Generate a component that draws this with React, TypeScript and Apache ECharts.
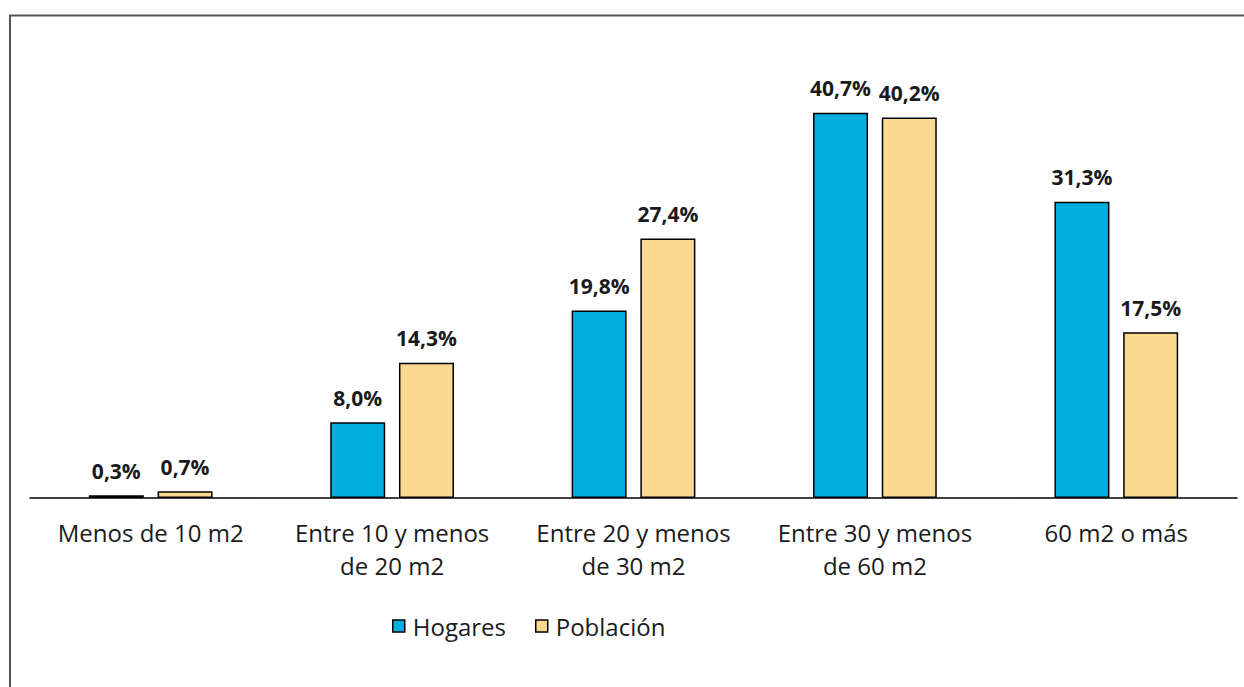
import React, { useEffect, useRef } from "react";
import * as echarts from "echarts";

const categories = [
  "Menos de 10 m2",
  "Entre 10 y menos\nde 20 m2",
  "Entre 20 y menos\nde 30 m2",
  "Entre 30 y menos\nde 60 m2",
  "60 m2 o más",
];
const hogares = [0.3, 8.0, 19.8, 40.7, 31.3];
const poblacion = [0.7, 14.3, 27.4, 40.2, 17.5];

const FONT = "'Open Sans', 'Noto Sans', sans-serif";

export default function App() {
  const ref = useRef<HTMLDivElement>(null);
  useEffect(() => {
    const chart = echarts.init(ref.current!, null, { renderer: "svg" });
    const fmt = (p: any) => p.value.toFixed(1).replace(".", ",") + "%";
    const label = {
      show: true,
      position: "top",
      distance: 14,
      formatter: fmt,
      fontFamily: FONT,
      fontWeight: "bold",
      fontSize: 21,
      color: "#1a1a1a",
    };
    chart.setOption({
      animation: false,
      backgroundColor: "#ffffff",
      graphic: [
        {
          type: "polyline",
          shape: { points: [[10, 687], [10, 15.5], [1244, 15.5]] },
          style: { stroke: "#555", lineWidth: 2, fill: "none" },
          silent: true,
        },
      ],
      grid: { left: 30, right: 7, top: 72, bottom: 189, containLabel: false },
      legend: {
        top: 609,
        left: 387,
        icon: "rect",
        itemWidth: 12,
        itemHeight: 12,
        itemGap: 29,
        itemStyle: { borderColor: "#000", borderWidth: 1.5 },
        textStyle: { fontFamily: FONT, fontSize: 24, color: "#1a1a1a", padding: [0, 0, 0, 3] },
        data: ["Hogares", "Población"],
      },
      xAxis: {
        type: "category",
        data: categories,
        axisLine: { lineStyle: { color: "#000", width: 1.5 } },
        axisTick: { show: false },
        axisLabel: {
          interval: 0,
          hideOverlap: false,
          margin: 18,
          fontFamily: FONT,
          fontSize: 24,
          lineHeight: 33,
          color: "#1a1a1a",
        },
      },
      yAxis: {
        type: "value",
        min: 0,
        max: 45,
        show: false,
        splitLine: { show: false },
      },
      series: [
        {
          name: "Hogares",
          type: "bar",
          data: hogares,
          barWidth: 55,
          barGap: "25%",
          itemStyle: { color: "#00AEDE", borderColor: "#000", borderWidth: 1.5 },
          label,
        },
        {
          name: "Población",
          type: "bar",
          data: poblacion,
          barWidth: 55,
          itemStyle: { color: "#FBD991", borderColor: "#000", borderWidth: 1.5 },
          label,
        },
      ],
    });
    return () => chart.dispose();
  }, []);
  return (
    <div
      ref={ref}
      style={{ position: "fixed", left: 0, top: 0, width: 1244, height: 687 }}
    />
  );
}
